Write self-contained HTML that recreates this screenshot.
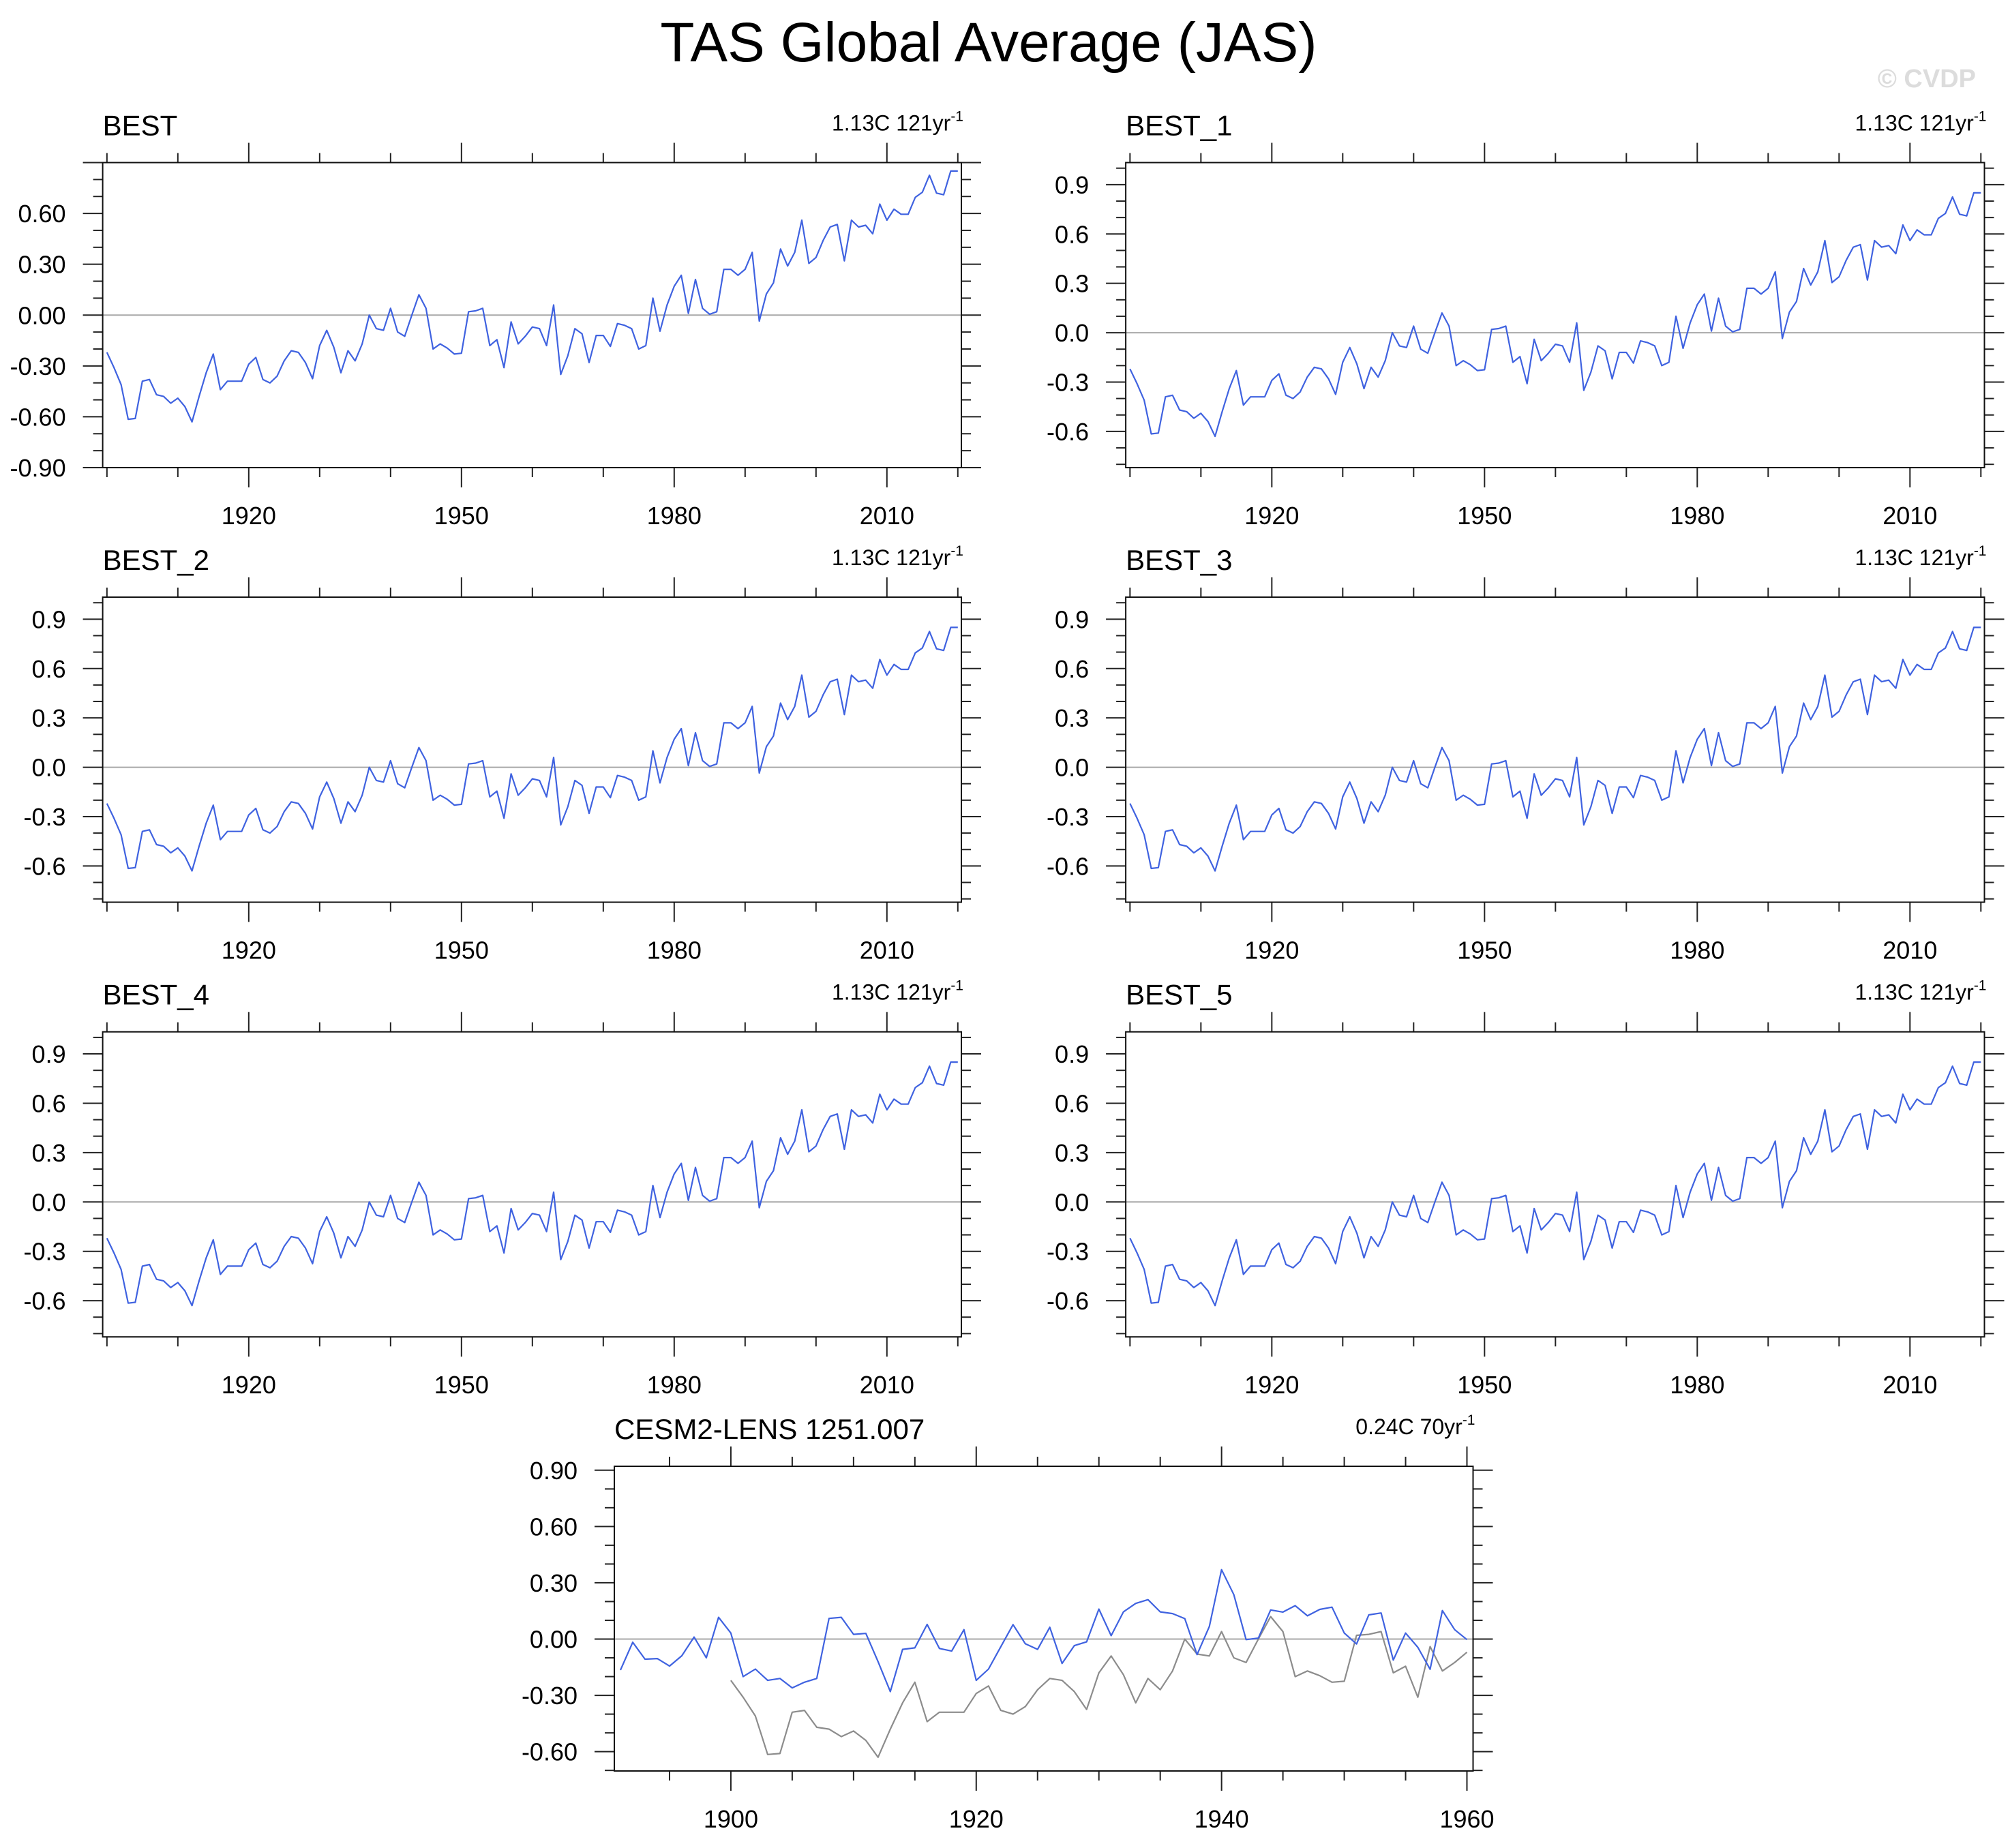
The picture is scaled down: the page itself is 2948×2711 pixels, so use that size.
<!DOCTYPE html>
<html><head><meta charset="utf-8"><title>TAS Global Average (JAS)</title>
<style>html,body{margin:0;padding:0;background:#fff}svg{display:block}text{font-family:"Liberation Sans",Arial,sans-serif}</style>
</head><body>
<svg id="fig" xmlns="http://www.w3.org/2000/svg" width="2948" height="2711" viewBox="0 0 2948 2711">
<rect width="2948" height="2711" fill="#fff"/>
<text x="1450" y="90" font-size="82" text-anchor="middle">TAS Global Average (JAS)</text>
<text x="2898" y="128" font-size="38" font-weight="bold" fill="#dcdcdc" text-anchor="end">© CVDP</text>
</svg>
<script>
const bestYears0 = 1900;
const bestValues = [-0.22,-0.31,-0.41,-0.615,-0.61,-0.39,-0.38,-0.47,-0.48,-0.52,-0.49,-0.54,-0.63,-0.48,-0.34,-0.23,-0.44,-0.39,-0.39,-0.39,
-0.29,-0.25,-0.38,-0.40,-0.36,-0.27,-0.21,-0.22,-0.28,-0.375,-0.18,-0.09,-0.19,-0.34,-0.21,-0.27,-0.17,0.00,-0.08,-0.09,
0.04,-0.10,-0.125,0.00,0.12,0.04,-0.20,-0.17,-0.195,-0.23,-0.225,0.02,0.025,0.04,-0.18,-0.145,-0.31,-0.04,-0.17,-0.125,
-0.07,-0.08,-0.18,0.06,-0.35,-0.24,-0.08,-0.11,-0.28,-0.12,-0.12,-0.185,-0.05,-0.06,-0.08,-0.20,-0.18,0.10,-0.095,0.06,
0.17,0.235,0.01,0.21,0.04,0.005,0.02,0.27,0.27,0.235,0.27,0.37,-0.035,0.125,0.19,0.39,0.29,0.37,0.56,0.305,
0.34,0.44,0.52,0.535,0.32,0.56,0.52,0.53,0.48,0.655,0.56,0.625,0.595,0.595,0.695,0.725,0.825,0.72,0.71,0.85,0.85];
const cesmYear0 = 1891;
const cesmValues = [-0.165,-0.017,-0.107,-0.104,-0.144,-0.089,0.011,-0.10,0.116,0.032,
-0.20,-0.16,-0.22,-0.21,-0.26,-0.23,-0.21,0.11,0.116,0.025,
0.03,-0.12,-0.28,-0.055,-0.047,0.078,-0.05,-0.064,0.05,-0.22,
-0.16,-0.041,0.077,-0.025,-0.055,0.063,-0.13,-0.035,-0.015,0.16,
0.018,0.145,0.19,0.21,0.145,0.136,0.109,-0.083,0.067,0.37,
0.237,-0.003,0.005,0.155,0.144,0.178,0.124,0.158,0.17,0.032,
-0.026,0.129,0.139,-0.112,0.032,-0.044,-0.161,0.152,0.05,-0.003];
const panelTitles = ["BEST","BEST_1","BEST_2","BEST_3","BEST_4","BEST_5"];
const trendText = "1.13C 121yr";
const cesmTitle = "CESM2-LENS 1251.007";
const cesmTrend = "0.24C 70yr";
const bestXTickLabels = [1920,1950,1980,2010];
const cesmXTickLabels = [1900,1920,1940,1960];

const NS="http://www.w3.org/2000/svg";
const svg=document.getElementById('fig');
function el(tag,attrs,parent){const e=document.createElementNS(NS,tag);for(const k in attrs)e.setAttribute(k,attrs[k]);(parent||svg).appendChild(e);return e;}

function drawPanel(cfg){
  const g=el('g',{});
  
  
  const X=v=>cfg.x0+(v-cfg.xmin)/(cfg.xmax-cfg.xmin)*(cfg.x1-cfg.x0);
  const Y=v=>cfg.y1-(v-cfg.ymin)/(cfg.ymax-cfg.ymin)*(cfg.y1-cfg.y0);
  const z=el('line',{x1:cfg.x0,x2:cfg.x1,y1:Y(0),y2:Y(0),stroke:'#a8a8a8','stroke-width':2},g);
  
  
  const ticks=el('g',{stroke:'#222','stroke-width':2},g);
  
  
  for(let k=Math.ceil(cfg.ymin*10-1e-6);k<=Math.floor(cfg.ymax*10+1e-6);k++){
    const v=k/10, y=Y(v), major=(k%3===0), L=major?29:14;
    el('line',{x1:cfg.x0-L,x2:cfg.x0,y1:y,y2:y},ticks);
    el('line',{x1:cfg.x1,x2:cfg.x1+L,y1:y,y2:y},ticks);
    if(major && v<=cfg.ylabMax+1e-6){
      const t=el('text',{x:cfg.x0-54,y:y+13,'font-size':36,'text-anchor':'end'},g);
      t.textContent=v.toFixed(cfg.dec);
      
      
    }
  }
  for(let yr=Math.ceil(cfg.xmin/cfg.minorStep)*cfg.minorStep;yr<=cfg.xmax;yr+=cfg.minorStep){
    const x=X(yr), major=cfg.xlabels.indexOf(yr)>=0, L=major?29:14;
    el('line',{x1:x,x2:x,y1:cfg.y0-L,y2:cfg.y0},ticks);
    el('line',{x1:x,x2:x,y1:cfg.y1,y2:cfg.y1+L},ticks);
  }
  cfg.xlabels.forEach(yr=>{
    const t=el('text',{x:X(yr),y:cfg.y1+83,'font-size':36,'text-anchor':'middle'},g);
    t.textContent=yr;
    
    
  });
  cfg.series.forEach(s=>{
    const pts=s.values.map((v,i)=>X(s.start+i).toFixed(1)+','+Y(v).toFixed(1)).join(' ');
    const p=el('polyline',{points:pts,fill:'none',stroke:s.color,'stroke-width':2.2,'stroke-linejoin':'round'},g);
    
    
  });
  const b=el('rect',{x:cfg.x0,y:cfg.y0,width:cfg.x1-cfg.x0,height:cfg.y1-cfg.y0,fill:'none',stroke:'#111','stroke-width':2},g);
  
  
  const tl=el('text',{x:cfg.x0,y:cfg.y0-40,'font-size':42},g);
  tl.textContent=cfg.title;
  
  
  const tr=el('text',{x:cfg.x1+3,y:cfg.y0-47,'font-size':32,'text-anchor':'end'},g);
  
  
  const s1=el('tspan',{},tr); s1.textContent=cfg.trend;
  const s2=el('tspan',{'font-size':21,dy:-14},tr); s2.textContent='-1';
}

const rowTops=[238.5,876,1513.7];
panelTitles.forEach((t,i)=>{
  const col=i%2,row=Math.floor(i/2);
  const x0=150.6+col*1500.5;
  const first=(i===0);
  drawPanel({name:'panel-'+t.toLowerCase().replace('_','-'),title:t,trend:trendText,
    x0:x0,x1:x0+1259.4,y0:rowTops[row],y1:rowTops[row]+447.5,
    xmin:1899.4,xmax:2020.5,minorStep:10,xlabels:bestXTickLabels,
    ymin:first?-0.9:-0.82,ymax:first?0.9:1.034,ylabMax:first?0.6:0.9,dec:first?2:1,
    series:[{name:'best-series-line',start:bestYears0,values:bestValues,color:'#3f62e0'}]});
});
drawPanel({name:'panel-cesm2-lens',title:cesmTitle,trend:cesmTrend,
  x0:901,x1:2160.5,y0:2151,y1:2598,xmin:1890.5,xmax:1960.5,minorStep:5,xlabels:cesmXTickLabels,
  ymin:-0.703,ymax:0.921,ylabMax:0.9,dec:2,
  series:[{name:'observed-best-line',start:bestYears0,values:bestValues.slice(0,61),color:'#8c8c8c'},
          {name:'cesm2-member-line',start:cesmYear0,values:cesmValues,color:'#3f62e0'}]});
</script>
</body></html>
